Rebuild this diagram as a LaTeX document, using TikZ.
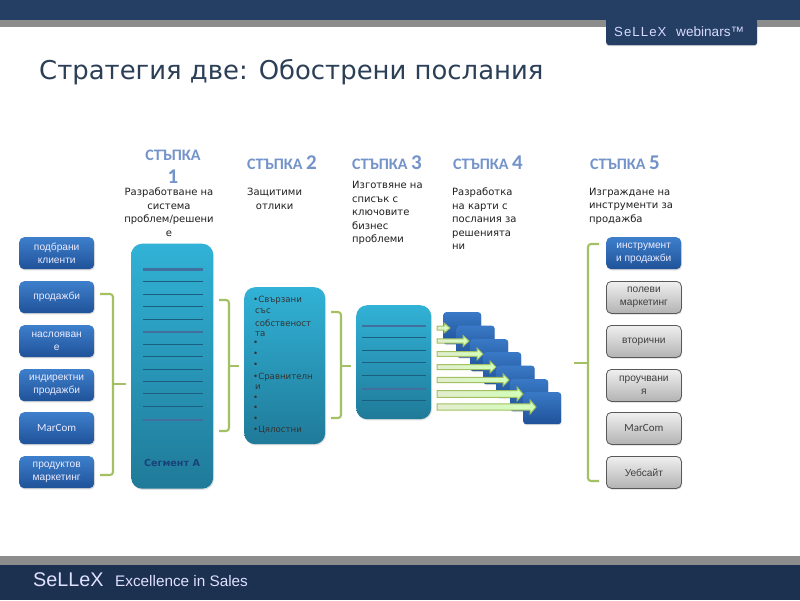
\documentclass[tikz,border=0pt]{standalone}
\usepackage{fontspec}
\setmainfont{DejaVu Sans}
\newfontfamily\capfont{Carlito}
\newfontfamily\arialfont{Liberation Sans}
\usetikzlibrary{shadows,fadings,calc}
\definecolor{navytop}{HTML}{243F63}
\definecolor{navybot}{HTML}{1C3150}
\definecolor{barg}{HTML}{8C8C8C}
\definecolor{stepblue}{HTML}{7393CA}
\definecolor{brack}{HTML}{A3C162}
\definecolor{lineteal}{HTML}{1B5F80}
\definecolor{linethick}{HTML}{41709F}
\definecolor{titlecol}{HTML}{2B3F57}
\definecolor{HTMLtop}{HTML}{3E7FCB}
\definecolor{HTMLbot}{HTML}{1F5299}
\definecolor{HTMLtealtop}{HTML}{31B2D6}
\definecolor{HTMLtealbot}{HTML}{207A99}
\definecolor{HTMLstacktop}{HTML}{3A79C6}
\definecolor{HTMLstackbot}{HTML}{1F5299}
\tikzset{
  x=1pt,y=-1pt,
  boxbase/.style={rounded corners=5pt,minimum width=75pt,minimum height=32pt,anchor=north west,align=center,inner sep=0pt,
    font=\arialfont\fontsize{10.2}{13.6}\selectfont,drop shadow={shadow xshift=0.8pt,shadow yshift=-1.2pt,opacity=.3}},
  bluebox/.style={boxbase,top color=HTMLtop,bottom color=HTMLbot,text=white!92!blue},
  graybox/.style={boxbase,top color=white!94!black,bottom color=white!70!black,draw=black!65,line width=.8pt,text=black!75},
  tealbox/.style={rounded corners=11pt,anchor=north west,inner sep=0pt,top color=HTMLtealtop,bottom color=HTMLtealbot,
    drop shadow={shadow xshift=0.8pt,shadow yshift=-1.2pt,opacity=.25}},
  stackbox/.style={rounded corners=3pt,anchor=north west,minimum width=38pt,minimum height=32pt,inner sep=0pt,
    top color=HTMLstacktop,bottom color=HTMLstackbot,drop shadow={shadow xshift=0.5pt,shadow yshift=-1pt,opacity=.25}},
  bracketline/.style={draw=brack,line width=2.1pt,rounded corners=3pt},
  thinrule/.style={draw=lineteal,line width=.8pt},
  thickrule/.style={draw=linethick,line width=2.4pt},
  blockarrow/.style={draw=brack,line width=1pt,left color=white!70!brack,right color=white!80!green!90!yellow,line join=miter},
  stepcap/.style={font=\capfont\bfseries\fontsize{16}{20}\selectfont,text=stepblue,inner sep=0pt,anchor=base west},
  stepnum/.style={font=\capfont\bfseries\fontsize{21}{24}\selectfont,text=stepblue,inner sep=0pt},
  desc/.style={font=\fontsize{10}{13.4}\selectfont,text=black!88,inner sep=0pt,align=left,anchor=north west},
  bul/.style={font=\fontsize{8.6}{10}\selectfont,text=black!80,inner sep=0pt,anchor=west}
}
\begin{document}
\begin{tikzpicture}
\useasboundingbox (0,0) rectangle (800,600);
\fill[white] (0,0) rectangle (800,600);
% header
\fill[barg] (0,19) rectangle (800,27);
\fill[navytop] (0,0) rectangle (800,20);
\node[anchor=north west,minimum width=151pt,minimum height=25pt,inner sep=0pt,fill=navytop,rounded corners=3pt,
  drop shadow={shadow xshift=0pt,shadow yshift=-1pt,opacity=.35}] (tab) at (606,20) {};
\fill[navytop] (606,18) rectangle (757,30);
\node[anchor=base west,inner sep=0pt,text=white!85!blue,font=\arialfont\fontsize{13.2}{14}\selectfont] (tabt1) at (614,36) {\addfontfeatures{LetterSpace=8}SeLLeX};
\node[anchor=base west,inner sep=0pt,text=white!85!blue,font=\arialfont\fontsize{13.6}{14}\selectfont] (tabt2) at (676,36) {webinars™};
% footer
\fill[barg] (0,555.5) rectangle (800,565);
\fill[navybot] (0,565) rectangle (800,600);
\node[anchor=base west,inner sep=0pt,text=white!88!blue,font=\arialfont\fontsize{19.8}{20}\selectfont] (foot1) at (33,586) {SeLLeX};
\node[anchor=base west,inner sep=0pt,text=white!88!blue,font=\arialfont\fontsize{15.3}{20}\selectfont] (foot2) at (115,586) {Excellence in Sales};
% title
\node[anchor=base west,inner sep=0pt,text=titlecol,font=\fontsize{25.9}{30}\selectfont] (title) at (39,79) {Стратегия две: Обострени послания};
% step captions
\node[stepcap,anchor=base] (s1) at (173,160) {СТЪПКА};
\node[stepnum,anchor=base] (s1n) at (173,183.5) {1};
\node[stepcap] (s2) at (247,169) {СТЪПКА {\fontsize{21}{24}\selectfont 2}};
\node[stepcap] (s3) at (352,169) {СТЪПКА {\fontsize{21}{24}\selectfont 3}};
\node[stepcap] (s4) at (453,169) {СТЪПКА {\fontsize{21}{24}\selectfont 4}};
\node[stepcap] (s5) at (590,169) {СТЪПКА {\fontsize{21}{24}\selectfont 5}};
% descriptions
\node[desc,align=center,anchor=north] (d1) at (169,188) {Разработване на\\система\\проблем/решени\\е};
\node[desc,align=center] (d2) at (247,188) {Защитими\\отлики};
\node[desc] (d3) at (352,181.5) {Изготвяне на\\списък с\\ключовите\\бизнес\\проблеми};
\node[desc] (d4) at (452,188) {Разработка\\на карти с\\послания за\\решенията\\ни};
\node[desc] (d5) at (589,188) {Изграждане на\\инструменти за\\продажба};
% left boxes
\node[bluebox] (l1) at (19,237) {подбрани\\клиенти};
\node[bluebox] (l2) at (19,281) {продажби};
\node[bluebox] (l3) at (19,325) {наслояван\\е};
\node[bluebox] (l4) at (19,369) {индиректни\\продажби};
\node[bluebox] (l5) at (19,412) {\capfont\fontsize{11}{13}\selectfont MarCom};
\node[bluebox] (l6) at (19,456) {продуктов\\маркетинг};
% right boxes
\node[bluebox] (r1) at (606,237) {инструмент\\и продажби};
\node[graybox] (r2) at (606,281) {полеви\\маркетинг};
\node[graybox] (r3) at (606,325) {вторични};
\node[graybox] (r4) at (606,369) {проучвани\\я};
\node[graybox] (r5) at (606,412) {\capfont\fontsize{11}{13}\selectfont MarCom};
\node[graybox] (r6) at (606,456) {Уебсайт};
% teal panels
\node[tealbox,minimum width=82pt,minimum height=245pt] (p1) at (131,243.5) {};
\node[tealbox,minimum width=81pt,minimum height=157pt] (p2) at (244,287) {};
\node[tealbox,minimum width=75pt,minimum height=114pt] (p3) at (356,305) {};
% panel 1 rules
\foreach \yy in {281,294,306,319,344,356,369,381,393.5,406}
  \draw[thinrule] (143,\yy) -- (203,\yy);
\foreach \yy in {269.5,332,420}
  \draw[thickrule] (143,\yy) -- (203,\yy);
\node[inner sep=0pt,text=HTMLbot!80!black,font=\bfseries\fontsize{9.6}{10}\selectfont] (seg) at (172,463) {Сегмент А};
% panel 2 bullets
\node[bul] (b1) at (253,300.5) {•Свързани};
\node[bul] (b2) at (255,311.5) {със};
\node[bul] (b3) at (255,323) {собственост};
\node[bul] (b4) at (255,334) {та};
\node[bul] (b5) at (253,343) {•};
\node[bul] (b6) at (253,354) {•};
\node[bul] (b7) at (253,365) {•};
\node[bul] (b8) at (253,377) {•Сравнителн};
\node[bul] (b9) at (255,387) {и};
\node[bul] (b10) at (253,398) {•};
\node[bul] (b11) at (253,408.5) {•};
\node[bul] (b12) at (253,419) {•};
\node[bul] (b13) at (253,430) {•Цялостни};
% panel 3 rules
\foreach \yy in {337,350,362,375,400}
  \draw[thinrule] (362,\yy) -- (426,\yy);
\foreach \yy in {326,389}
  \draw[thickrule] (362,\yy) -- (426,\yy);
% stack
\node[stackbox] (k1) at (443,312) {};
\node[stackbox] (k2) at (456.5,325.5) {};
\node[stackbox] (k3) at (470,339) {};
\node[stackbox] (k4) at (483,352) {};
\node[stackbox] (k5) at (496.5,365.5) {};
\node[stackbox] (k6) at (510,379) {};
\node[stackbox] (k7) at (523,392) {};
% block arrows
\foreach \i/\yy/\ex/\hs/\hh in {1/328/450/2/5,2/341/469/2.2/5.5,3/354/483/2.4/6,4/367/496/2.5/6,5/380/509/2.6/6.2,6/394/523/3.4/7,7/407/536/3.2/7}{
  \coordinate (as\i) at (437,\yy);
  \coordinate (ae\i) at (\ex,\yy);
  \draw[blockarrow] ($(as\i)+(0,-\hs)$) -- ($(ae\i)+(-6,-\hs)$) -- ($(ae\i)+(-6,-\hh)$) -- (ae\i) -- ($(ae\i)+(-6,\hh)$) -- ($(ae\i)+(-6,\hs)$) -- ($(as\i)+(0,\hs)$) -- cycle;
}
% brackets
\coordinate (bA1) at (100,294); \coordinate (bA2) at (100,475); \coordinate (bAt) at (126,384);
\draw[bracketline] (bA1) -- (113,294) -- (113,475) -- (bA2);
\draw[bracketline] (113,384) -- (bAt);
\coordinate (bB1) at (219,300); \coordinate (bB2) at (219,431); \coordinate (bBt) at (239,366);
\draw[bracketline] (bB1) -- (229,300) -- (229,431) -- (bB2);
\draw[bracketline] (229,366) -- (bBt);
\coordinate (bC1) at (331,312); \coordinate (bC2) at (331,418); \coordinate (bCt) at (351,366);
\draw[bracketline] (bC1) -- (341,312) -- (341,418) -- (bC2);
\draw[bracketline] (341,366) -- (bCt);
\coordinate (bD1) at (599,244); \coordinate (bD2) at (599,481); \coordinate (bDt) at (574,363);
\draw[bracketline] (bD1) -- (588,244) -- (588,481) -- (bD2);
\draw[bracketline] (588,363) -- (bDt);
\end{tikzpicture}
\end{document}
